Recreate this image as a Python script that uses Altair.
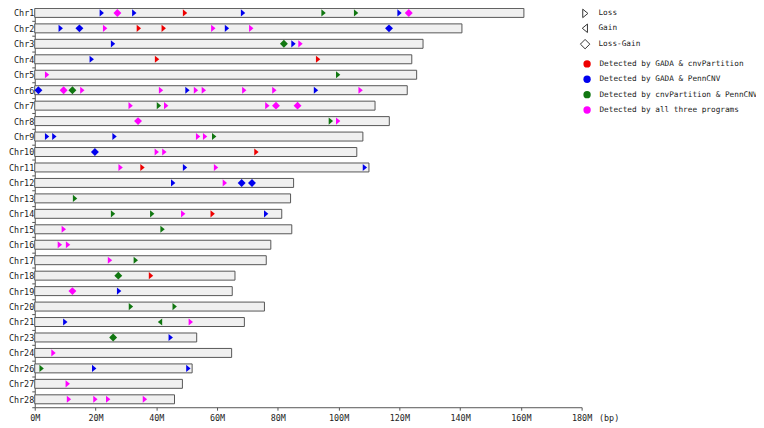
import altair as alt
import pandas as pd

chroms = ["Chr1", "Chr2", "Chr3", "Chr4", "Chr5", "Chr6", "Chr7", "Chr8", "Chr9", "Chr10",
          "Chr11", "Chr12", "Chr13", "Chr14", "Chr15", "Chr16", "Chr17", "Chr18", "Chr19",
          "Chr20", "Chr21", "Chr23", "Chr24", "Chr26", "Chr27", "Chr28"]
lengths = [161.0, 140.6, 127.8, 124.1, 125.7, 122.6, 112.0, 116.7, 108.0, 106.0,
           110.0, 85.2, 84.2, 81.3, 84.6, 77.7, 76.2, 65.9, 65.0,
           75.6, 69.0, 53.3, 64.8, 51.8, 48.6, 46.0]

# marker data: chromosome, position (Mbp), type, detecting programs
mk_chr = (["Chr1"] * 9 + ["Chr2"] * 9 + ["Chr3"] * 4 + ["Chr4"] * 3 + ["Chr5"] * 2 +
          ["Chr6"] * 12 + ["Chr7"] * 6 + ["Chr8"] * 3 + ["Chr9"] * 6 + ["Chr10"] * 4 +
          ["Chr11"] * 5 + ["Chr12"] * 4 + ["Chr13"] * 1 + ["Chr14"] * 5 + ["Chr15"] * 2 +
          ["Chr16"] * 2 + ["Chr17"] * 2 + ["Chr18"] * 2 + ["Chr19"] * 2 + ["Chr20"] * 2 +
          ["Chr21"] * 3 + ["Chr23"] * 2 + ["Chr24"] * 1 + ["Chr26"] * 3 + ["Chr27"] * 1 +
          ["Chr28"] * 4)
mk_pos = [22.0, 27.2, 32.7, 49.4, 68.5, 95.0, 105.7, 120.0, 123.1,
          8.5, 14.7, 23.1, 34.2, 42.4, 58.7, 63.2, 71.2, 116.6,
          25.7, 82.0, 85.1, 87.4,
          18.7, 40.2, 93.2,
          4.0, 99.8,
          1.2, 9.5, 12.4, 15.6, 41.5, 50.2, 53.0, 55.6, 68.9, 78.8, 92.5, 107.2,
          31.5, 40.8, 43.2, 76.5, 79.4, 86.5,
          34.0, 97.4, 99.8,
          4.0, 6.4, 26.2, 53.7, 56.0, 59.0,
          19.8, 40.1, 42.6, 72.9,
          28.2, 35.4, 49.4, 59.6, 108.6,
          45.5, 62.5, 68.1, 71.5,
          13.2,
          25.7, 38.6, 48.8, 58.5, 76.1,
          9.5, 42.0,
          8.2, 10.9,
          24.7, 33.2,
          27.5, 38.2,
          12.4, 27.7,
          31.6, 46.0,
          10.0, 41.3, 51.3,
          25.8, 44.7,
          6.1,
          2.2, 19.5, 50.5,
          10.8,
          11.2, 19.9, 24.1, 36.2]
L, G, D = "Loss", "Gain", "Loss-Gain"
mk_type = [L, D, L, L, L, L, L, L, D,
           L, D, L, L, L, L, L, L, D,
           L, D, L, L,
           L, L, L,
           L, L,
           D, D, D, L, L, L, L, L, L, L, L, L,
           L, L, L, L, D, D,
           D, L, L,
           L, L, L, L, L, L,
           D, L, L, L,
           L, L, L, L, L,
           L, L, D, D,
           L,
           L, L, L, L, L,
           L, L,
           L, L,
           L, L,
           D, L,
           D, L,
           L, L,
           L, G, L,
           D, L,
           L,
           L, L, L,
           L,
           L, L, L, L]
R = "Detected by GADA & cnvPartition"
B = "Detected by GADA & PennCNV"
N = "Detected by cnvPartition & PennCNV"
M = "Detected by all three programs"
mk_prog = [B, M, B, R, B, N, N, B, M,
           B, B, M, R, R, M, B, M, B,
           B, N, B, M,
           B, R, R,
           M, N,
           B, M, N, M, M, B, M, M, M, M, B, M,
           M, N, M, M, M, M,
           M, N, M,
           B, B, B, M, M, N,
           B, M, M, R,
           M, R, B, M, B,
           B, M, B, B,
           N,
           N, N, M, R, B,
           M, N,
           M, M,
           M, N,
           N, R,
           M, B,
           N, N,
           B, N, M,
           N, B,
           M,
           N, B, B,
           M,
           M, M, M, M]

x_ticks = [0, 20, 40, 60, 80, 100, 120, 140, 160, 180]

idx = {c: i for i, c in enumerate(chroms)}
chr_df = pd.DataFrame({"chrom": chroms, "idx": list(range(len(chroms))),
                       "start": [0.0] * len(chroms), "length": lengths})
mk_df = pd.DataFrame({"chrom": mk_chr, "pos": mk_pos, "type": mk_type, "prog": mk_prog})
mk_df["idx"] = mk_df["chrom"].map(idx)

FONT = "DejaVu Sans Mono"
LEG_FS = 7.8
names_js = "[" + ",".join("'%s'" % c for c in chroms) + "]"
n = len(chroms)
y_vals = [i * 0.5 for i in range(0, 2 * n)]

y_scale = alt.Scale(domain=[-0.192, 25.513], reverse=True, nice=False, zero=False)
x_scale = alt.Scale(domain=[0, 180], nice=False, zero=False)

y_axis = alt.Axis(values=y_vals, title=None, grid=False,
                  labelExpr="datum.value % 1 == 0 ? " + names_js + "[datum.value] : ''",
                  labelFont=FONT, labelFontSize=8.5, labelColor="#222",
                  labelOverlap=False, labelFlush=False, labelPadding=-2, labelBound=False,
                  tickSize=3, tickColor="#555", domainColor="#555",
                  tickOpacity={"condition": {"test": "datum.value % 1 == 0", "value": 0}, "value": 1})
x_axis = alt.Axis(values=x_ticks, title="(bp)", grid=False,
                  labelExpr="datum.value + 'M'",
                  labelFont=FONT, labelFontSize=8.5, labelColor="#222",
                  labelOverlap=False, labelFlush=False, labelPadding=3,
                  tickSize=3, tickColor="#555", domainColor="#555",
                  titleFont=FONT, titleFontSize=8.5, titleFontWeight="normal", titleColor="#222",
                  titleX=569, titleY=6, titleAlign="left", titleBaseline="top", titleAnchor="start")

bars = alt.Chart(chr_df).mark_rect(fill="#f0f0f0", stroke="#555", strokeWidth=1).transform_calculate(
    y1="datum.idx - 0.29", y2="datum.idx + 0.29"
).encode(
    x=alt.X("start:Q", scale=x_scale, axis=x_axis),
    x2="length:Q",
    y=alt.Y("y1:Q", scale=y_scale, axis=y_axis),
    y2="y2:Q",
)

tri_right = "M-0.5,-0.9L0.6,0L-0.5,0.9Z"
tri_left = "M0.5,-0.9L-0.6,0L0.5,0.9Z"
diamond = "M0,-1L1,0L0,1L-1,0Z"

points = alt.Chart(mk_df).mark_point(filled=True, opacity=1, size=64, strokeWidth=0).encode(
    x=alt.X("pos:Q", scale=x_scale, axis=x_axis),
    y=alt.Y("idx:Q", scale=y_scale, axis=y_axis),
    shape=alt.Shape("type:N",
                    scale=alt.Scale(domain=[L, G, D], range=[tri_right, tri_left, diamond]),
                    legend=alt.Legend(title=None, orient="none", legendX=550, legendY=-2,
                                      symbolFillColor="white", symbolStrokeColor="#333",
                                      symbolStrokeWidth=1, symbolSize=90,
                                      labelFont=FONT, labelFontSize=LEG_FS, labelColor="#222",
                                      rowPadding=2, labelOffset=8, padding=0)),
    color=alt.Color("prog:N",
                    scale=alt.Scale(domain=[R, B, N, M],
                                    range=["#ee0000", "#0000ee", "#117711", "#ff00ff"]),
                    legend=alt.Legend(title=None, orient="none", legendX=553, legendY=50,
                                      symbolType="circle", symbolSize=55, labelLimit=300,
                                      labelFont=FONT, labelFontSize=LEG_FS, labelColor="#222",
                                      rowPadding=6.5, labelOffset=8, padding=0)),
)

chart = alt.layer(bars, points).properties(
    width=552, height=401,
    autosize=alt.AutoSizeParams(type="none"),
    padding={"left": 27, "top": 0, "right": 176, "bottom": 19},
).configure_view(stroke=None)

chart.save("out.html", embed_options={"renderer": "svg", "actions": False})
